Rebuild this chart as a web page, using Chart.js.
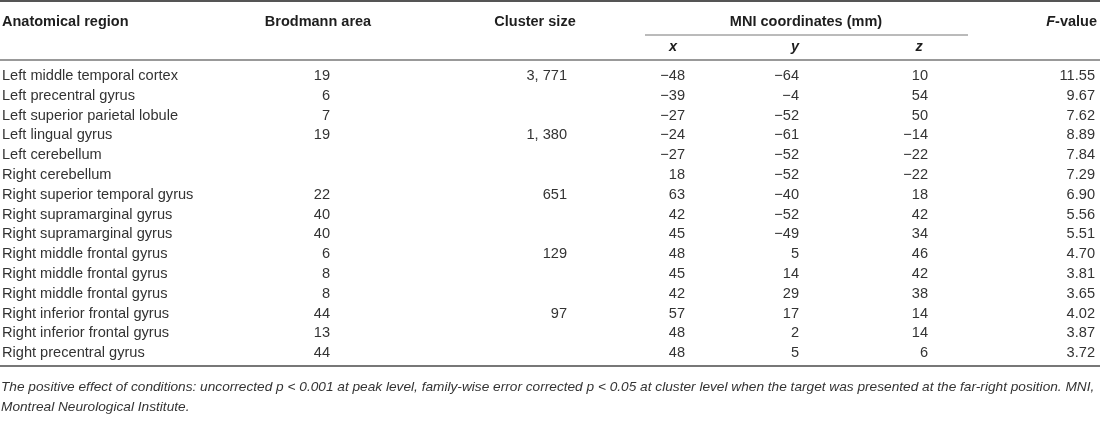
<!DOCTYPE html>
<html>
<head>
<meta charset="utf-8">
<script src="https://cdn.jsdelivr.net/npm/chart.js@4"></script>
<style>
    html, body { margin: 0; padding: 0; background: #fff; }
    #wrap { width: 1100px; height: 430px; }
</style>
</head>
<body>
<div id="wrap"><canvas id="regionTable" width="1100" height="430"></canvas></div>
<script>
const regions = [
    'Left middle temporal cortex', 'Left precentral gyrus', 'Left superior parietal lobule',
    'Left lingual gyrus', 'Left cerebellum', 'Right cerebellum',
    'Right superior temporal gyrus', 'Right supramarginal gyrus', 'Right supramarginal gyrus',
    'Right middle frontal gyrus', 'Right middle frontal gyrus', 'Right middle frontal gyrus',
    'Right inferior frontal gyrus', 'Right inferior frontal gyrus', 'Right precentral gyrus'
];
const brodmann = [19, 6, 7, 19, null, null, 22, 40, 40, 6, 8, 8, 44, 13, 44];
const clusterSize = [3771, null, null, 1380, null, null, 651, null, null, 129, null, null, 97, null, null];
const mniX = [-48, -39, -27, -24, -27, 18, 63, 42, 45, 48, 45, 42, 57, 48, 48];
const mniY = [-64, -4, -52, -61, -52, -52, -40, -52, -49, 5, 14, 29, 17, 2, 5];
const mniZ = [10, 54, 50, -14, -22, -22, 18, 42, 34, 46, 42, 38, 14, 14, 6];
const fValue = [11.55, 9.67, 7.62, 8.89, 7.84, 7.29, 6.90, 5.56, 5.51, 4.70, 3.81, 3.65, 4.02, 3.87, 3.72];

const footnote = [
    'The positive effect of conditions: uncorrected p < 0.001 at peak level, family-wise error corrected p < 0.05 at cluster level when the target was presented at the far-right position. MNI,',
    'Montreal Neurological Institute.'
];

const FONT = '"Liberation Sans", Arial, Helvetica, sans-serif';
const textColor = '#333';

const fmtInt = v => (v < 0 ? '\u2212' + Math.abs(v) : String(v));
const fmtCluster = v => v >= 1000 ? Math.floor(v / 1000) + ', ' + String(v % 1000).padStart(3, '0') : String(v);
const fmtF = v => v.toFixed(2);

// one dataset per table column, anchored on the x scale (0..1100)
const column = (values, anchor, align, fmt) => ({
    data: values.map((v, i) => (v === null ? null : { x: anchor, y: i, text: fmt(v) })).filter(p => p),
    align: align,
    pointRadius: 0,
    showLine: false
});

const datasets = [
    column(regions, 2, 'left', v => v),
    column(brodmann, 330, 'right', fmtInt),
    column(clusterSize, 567, 'right', fmtCluster),
    column(mniX, 685, 'right', fmtInt),
    column(mniY, 799, 'right', fmtInt),
    column(mniZ, 928, 'right', fmtInt),
    column(fValue, 1095, 'right', fmtF)
];

const tablePlugin = {
    id: 'tablePlugin',
    afterDatasetsDraw(chart) {
        const { ctx, chartArea, scales: { x, y } } = chart;
        ctx.save();

        // cells
        ctx.font = `14.6px ${FONT}`;
        ctx.fillStyle = textColor;
        ctx.textBaseline = 'middle';
        chart.data.datasets.forEach((ds, di) => {
            const meta = chart.getDatasetMeta(di);
            ctx.textAlign = ds.align;
            meta.data.forEach((pt, i) => {
                ctx.fillText(ds.data[i].text, pt.x, pt.y + 1);
            });
        });

        // headers
        const h1 = chartArea.top - 43;
        const h2 = chartArea.top - 18;
        ctx.font = `bold 14.5px ${FONT}`;
        ctx.fillStyle = '#1e1e1e';
        ctx.textAlign = 'left';
        ctx.fillText('Anatomical region', x.getPixelForValue(2), h1);
        ctx.textAlign = 'center';
        ctx.fillText('Brodmann area', x.getPixelForValue(318), h1);
        ctx.fillText('Cluster size', x.getPixelForValue(535), h1);
        ctx.fillText('MNI coordinates (mm)', x.getPixelForValue(806), h1);
        ctx.textAlign = 'right';
        const fw = ctx.measureText('-value').width;
        ctx.fillText('-value', x.getPixelForValue(1097), h1);
        ctx.font = `italic bold 14.5px ${FONT}`;
        ctx.fillText('F', x.getPixelForValue(1097) - fw, h1);
        ctx.textAlign = 'center';
        ctx.fillText('x', x.getPixelForValue(673), h2);
        ctx.fillText('y', x.getPixelForValue(795), h2);
        ctx.fillText('z', x.getPixelForValue(919), h2);

        // rules
        const rule = (x0, x1, yy, w, color) => {
            ctx.beginPath();
            ctx.strokeStyle = color;
            ctx.lineWidth = w;
            ctx.moveTo(x0, yy);
            ctx.lineTo(x1, yy);
            ctx.stroke();
        };
        rule(chartArea.left, chartArea.right, 1, 2, '#555');
        rule(x.getPixelForValue(645), x.getPixelForValue(968), chartArea.top - 30, 1, '#777');
        rule(chartArea.left, chartArea.right, chartArea.top - 5, 2, '#999');
        rule(chartArea.left, chartArea.right, chartArea.bottom + 4, 2, '#777');

        // footnote, sized so the first line fills the table width
        let size = 12;
        ctx.font = `italic ${size}px ${FONT}`;
        size = size * (chartArea.right - chartArea.left - 6) / ctx.measureText(footnote[0]).width;
        ctx.font = `italic ${size.toFixed(2)}px ${FONT}`;
        ctx.fillStyle = '#333';
        ctx.textAlign = 'left';
        footnote.forEach((line, i) => {
            ctx.fillText(line, chartArea.left + 1, chartArea.bottom + 25 + i * 20);
        });

        ctx.restore();
    }
};

new Chart(document.getElementById('regionTable'), {
    type: 'scatter',
    data: { datasets: datasets },
    options: {
        responsive: false,
        animation: false,
        events: [],
        layout: { padding: { top: 65, bottom: 68, left: 0, right: 0 } },
        plugins: {
            legend: { display: false },
            tooltip: { enabled: false }
        },
        scales: {
            x: { type: 'linear', min: 0, max: 1100, display: false },
            y: { type: 'linear', min: -0.5, max: regions.length - 0.5, reverse: true, display: false }
        }
    },
    plugins: [tablePlugin]
});
</script>
</body>
</html>
